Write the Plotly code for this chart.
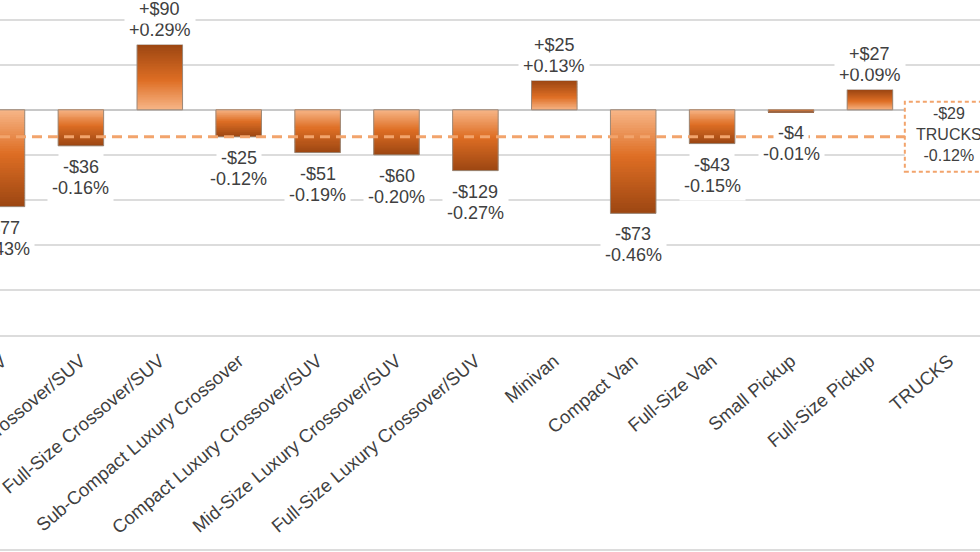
import plotly.graph_objects as go

# ---------------- data ----------------
categories = [
    "Compact Crossover/SUV",
    "Mid-Size Crossover/SUV",
    "Full-Size Crossover/SUV",
    "Sub-Compact Luxury Crossover",
    "Compact Luxury Crossover/SUV",
    "Mid-Size Luxury Crossover/SUV",
    "Full-Size Luxury Crossover/SUV",
    "Minivan",
    "Compact Van",
    "Full-Size Van",
    "Small Pickup",
    "Full-Size Pickup",
    "TRUCKS",
]
bar_categories = categories[:12]
dollar_change = [-77, -36, 90, -25, -51, -60, -129, 25, -73, -43, -4, 27]
pct_change = [-0.43, -0.16, 0.29, -0.12, -0.19, -0.20, -0.27, 0.13, -0.46, -0.15, -0.01, 0.09]
total_label = "TRUCKS"
total_dollar = -29
total_pct = -0.12

# ---------------- style ----------------
FONT = "Liberation Sans, Arial, sans-serif"
TXT = "#404040"
GRID = "#dcdcdc"
ORANGE_DASH = "#f2a46c"
BAR_W = 0.577
N_SEG = 40
STOPS = [(0.0, (247, 182, 136)), (0.45, (222, 110, 36)), (1.0, (156, 70, 18))]
LABEL_SIZE = 18
LINE_GAP = 21
TICK_SIZE = 18.5


def grad(t):
    for (t0, c0), (t1, c1) in zip(STOPS[:-1], STOPS[1:]):
        if t <= t1:
            f = (t - t0) / (t1 - t0)
            return "rgb(%d,%d,%d)" % tuple(round(a + (b - a) * f) for a, b in zip(c0, c1))
    return "rgb(%d,%d,%d)" % STOPS[-1][1]


def fmt_dollar(v):
    return ("+" if v > 0 else "-") + "$" + str(abs(v))


def fmt_pct(p):
    return ("+" if p > 0 else "-") + "%.2f%%" % abs(p)


fig = go.Figure()

# gradient bars: each bar stacked from overlapping thin slices of its own value
for k in range(N_SEG):
    t = (k + 0.5) / N_SEG
    top = min(k + 1.8, N_SEG)
    fig.add_trace(go.Bar(
        x=bar_categories,
        y=[p * (top - k) / N_SEG for p in pct_change],
        base=[p * k / N_SEG for p in pct_change],
        width=BAR_W,
        marker=dict(color=grad(t), line=dict(width=0)),
        hoverinfo="skip",
        showlegend=False,
    ))

# outline
fig.add_trace(go.Bar(
    x=bar_categories,
    y=pct_change,
    width=BAR_W,
    marker=dict(color="rgba(0,0,0,0)", line=dict(color="#9c8878", width=1)),
    hoverinfo="skip",
    showlegend=False,
))

# value labels (two lines, each its own annotation for tight line spacing)
for c, d, p in zip(bar_categories, dollar_change, pct_change):
    pos = p > 0
    if pos:
        lines = [(fmt_pct(p), 0), (fmt_dollar(d), LINE_GAP)]
        anchor = "bottom"
    else:
        lines = [(fmt_dollar(d), -6), (fmt_pct(p), -6 - LINE_GAP)]
        anchor = "top"
    for txt, shift in lines:
        fig.add_annotation(
            x=c, y=p, xref="x", yref="y",
            text=txt,
            showarrow=False,
            yanchor=anchor,
            yshift=shift,
            bgcolor="white",
            borderpad=4,
            font=dict(family=FONT, size=LABEL_SIZE, color=TXT),
        )

# average dashed line
fig.add_shape(type="line", xref="paper", yref="y", x0=0, x1=1,
              y0=total_pct, y1=total_pct,
              line=dict(color=ORANGE_DASH, width=3, dash="10px,6px"), layer="above")

# total box
ti = categories.index(total_label)
fig.add_shape(type="rect", xref="x", yref="y",
              xsizemode="pixel", ysizemode="pixel",
              xanchor=ti, yanchor=total_pct,
              x0=-44, x1=44, y0=-35, y1=35,
              fillcolor="white",
              line=dict(color=ORANGE_DASH, width=2, dash="4px,3px"), layer="above")
fig.add_annotation(
    x=ti, y=total_pct, xref="x", yref="y",
    text=fmt_dollar(total_dollar) + "<br>" + total_label + "<br>" + fmt_pct(total_pct),
    showarrow=False, yanchor="middle", yshift=2,
    font=dict(family=FONT, size=16, color=TXT),
)

# bottom frame line of the picture
fig.add_shape(type="line", xref="paper", yref="paper", x0=0, x1=1,
              y0=-0.642, y1=-0.642, line=dict(color=GRID, width=2))

fig.update_layout(
    width=980, height=552,
    margin=dict(l=0, r=0, t=0, b=217, autoexpand=False),
    paper_bgcolor="white", plot_bgcolor="white",
    barmode="overlay",
    showlegend=False,
    font=dict(family=FONT, size=LABEL_SIZE, color=TXT),
    xaxis=dict(
        type="category",
        categoryorder="array", categoryarray=categories,
        range=[-0.025, 12.395],
        autorange=False,
        automargin=False,
        tickangle=-40,
        showline=True, linecolor=GRID, linewidth=2, mirror=True,
        showgrid=False, ticks="",
        ticklabelstandoff=6,
        tickfont=dict(family=FONT, size=TICK_SIZE, color=TXT),
    ),
    yaxis=dict(
        range=[-1.0, 0.4876],
        autorange=False,
        automargin=False,
        dtick=0.2, tick0=0,
        showgrid=True, gridcolor=GRID, gridwidth=1.5,
        zeroline=True, zerolinecolor="#c8c8c8", zerolinewidth=1.5,
        showticklabels=False, ticks="",
    ),
)

fig.write_html("out.html", config={"displayModeBar": False},
               post_script="document.body.style.margin='0';")
